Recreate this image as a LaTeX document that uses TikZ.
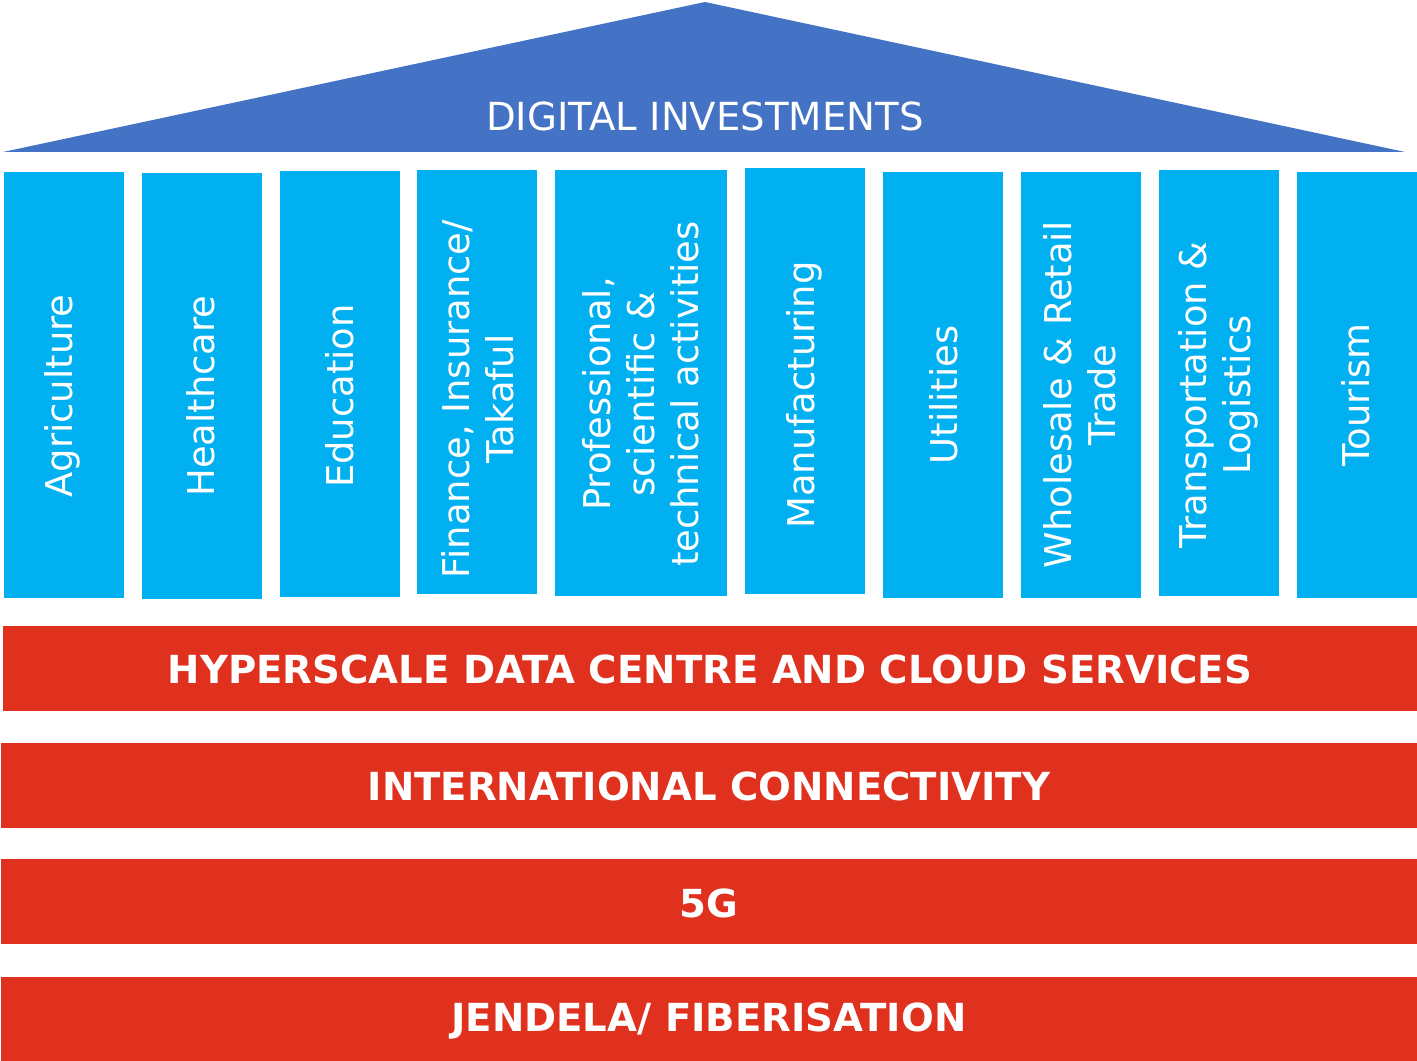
\documentclass[tikz,border=0pt]{standalone}
\usepackage{fontspec}
\setmainfont{DejaVu Sans}
\definecolor{roofblue}{HTML}{4472C4}
\definecolor{pillarblue}{HTML}{00B0F0}
\definecolor{basered}{HTML}{E0301E}
\tikzset{
  pillar/.style={fill=pillarblue},
  layer/.style={fill=basered},
  pillartext/.style={text=white, rotate=90, align=center, font=\fontsize{21}{25}\selectfont},
  layertext/.style={text=white, font=\fontsize{22}{26}\selectfont\bfseries},
}
\begin{document}
\begin{tikzpicture}[x=0.02cm, y=-0.02cm]
				\useasboundingbox (0,0) rectangle (1417,1061);
				% roof
				\fill[roofblue] (3,152) -- (705,2) -- (1405,152) -- cycle;
				\node[text=white, font=\fontsize{22}{26}\selectfont] (roof) at (705,116) {DIGITAL INVESTMENTS};
				% pillars
				\fill[pillar] (4,172) rectangle (124,598);
				\fill[pillar] (142,173) rectangle (262,599);
				\fill[pillar] (280,171) rectangle (400,597);
				\fill[pillar] (417,170) rectangle (537,594);
				\fill[pillar] (555,170) rectangle (727,596);
				\fill[pillar] (745,168) rectangle (865,594);
				\fill[pillar] (883,172) rectangle (1003,598);
				\fill[pillar] (1021,172) rectangle (1141,598);
				\fill[pillar] (1159,170) rectangle (1279,596);
				\fill[pillar] (1297,172) rectangle (1417,598);
				\node[pillartext] (agri) at (62,396) {Agriculture};
				\node[pillartext] (health) at (201,396) {Healthcare};
				\node[pillartext] (edu) at (340,396) {Education};
				\node[pillartext] (fin) at (478,399) {Finance, Insurance/\\Takaful};
				\node[pillartext] (prof) at (641,394) {Professional,\\scientific \&\\technical activities};
				\node[pillartext] (manu) at (804,395) {Manufacturing};
				\node[pillartext] (util) at (944,395) {Utilities};
				\node[pillartext] (trade) at (1080,395) {Wholesale \& Retail\\Trade};
				\node[pillartext] (trans) at (1218,395) {Transportation \&\\Logistics};
				\node[pillartext] (tour) at (1356,395) {Tourism};
				% base layers
				\fill[layer] (3,626) rectangle (1417,711);
				\fill[layer] (1,743) rectangle (1417,828);
				\fill[layer] (1,859) rectangle (1417,944);
				\fill[layer] (1,977) rectangle (1417,1061);
				\node[layertext] (cloud) at (710,669) {HYPERSCALE DATA CENTRE AND CLOUD SERVICES};
				\node[layertext] (intl) at (709,786) {INTERNATIONAL CONNECTIVITY};
				\node[layertext] (fiveg) at (709,903) {5G};
				\node[layertext] (fibre) at (709,1021) {JENDELA/ FIBERISATION};
			\end{tikzpicture}
\end{document}
